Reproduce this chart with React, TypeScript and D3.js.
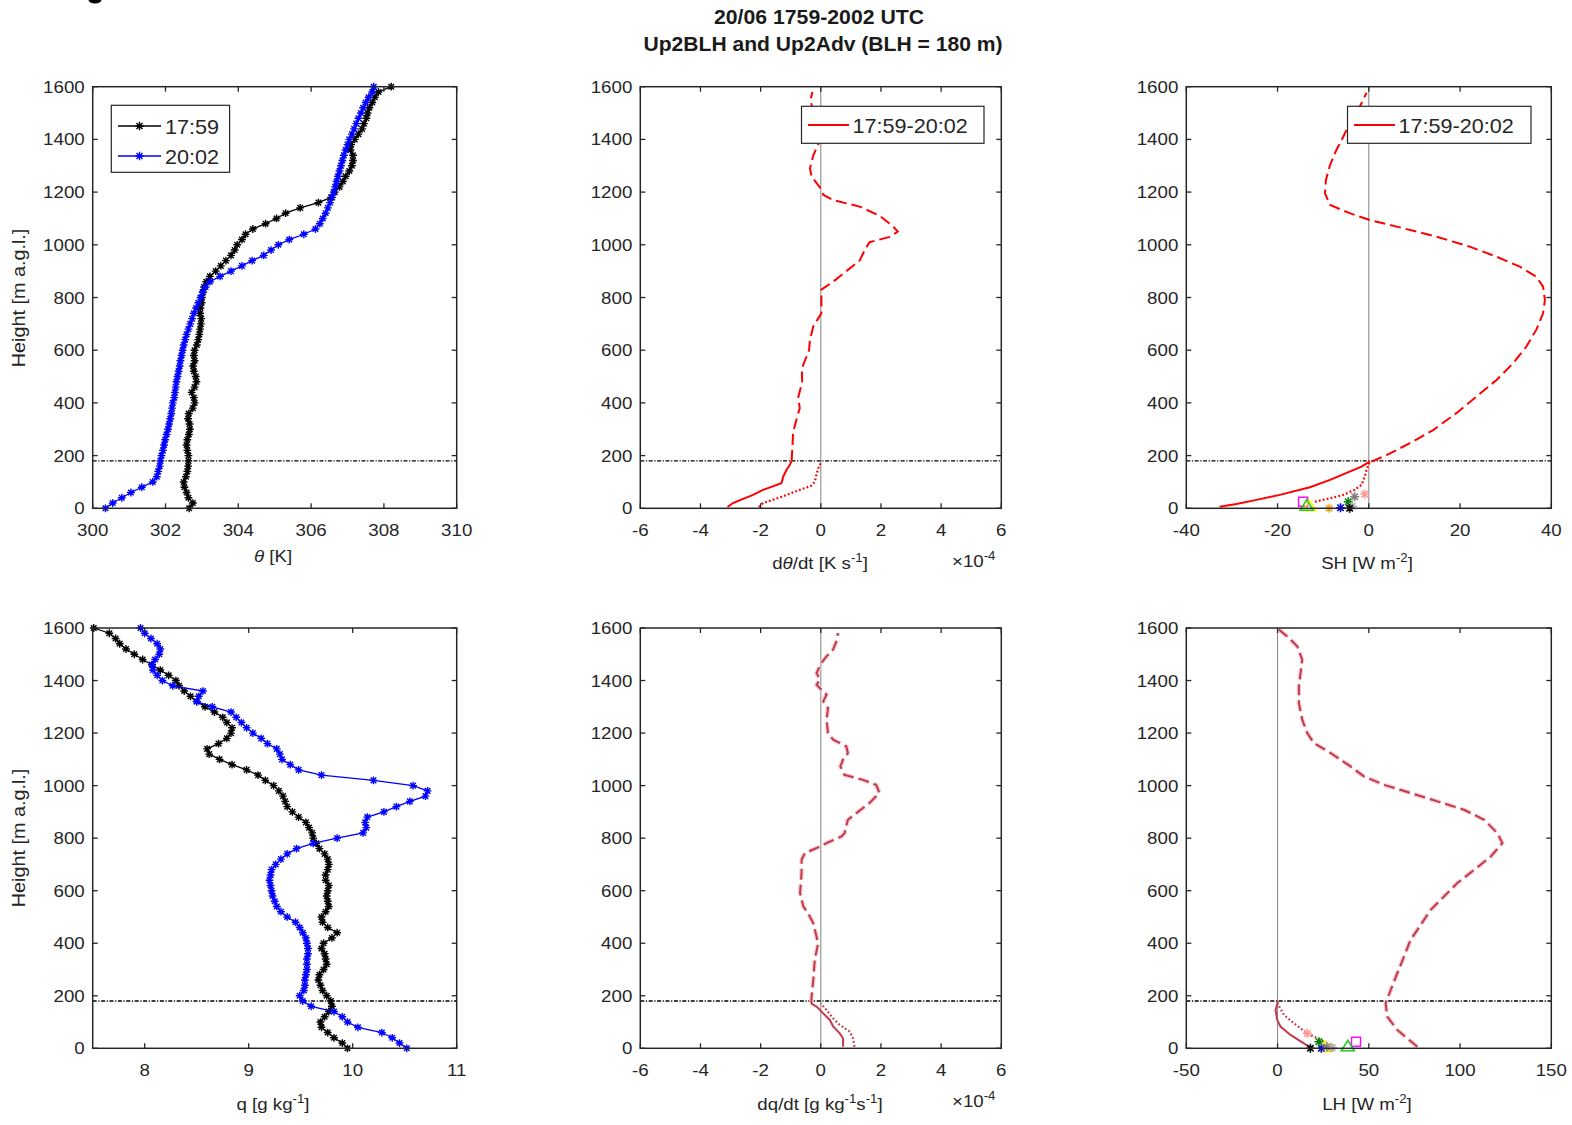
import React from "react";
import * as d3 from "d3";

// ---------- DATA ----------
const heights = [0,20,40,60,80,100,120,140,160,180,200,220,240,260,280,300,320,340,360,380,400,420,440,460,480,500,520,540,560,580,600,620,640,660,680,700,720,740,760,780,800,820,840,860,880,900,920,940,960,980,1000,1020,1040,1060,1080,1100,1120,1140,1160,1180,1200,1220,1240,1260,1280,1300,1320,1340,1360,1380,1400,1420,1440,1460,1480,1500,1520,1540,1560,1580,1600];

const theta1759 = [302.65,302.75,302.63,302.58,302.52,302.5,302.56,302.6,302.62,302.63,302.63,302.6,302.58,302.6,302.64,302.67,302.66,302.62,302.64,302.75,302.8,302.78,302.72,302.8,302.85,302.83,302.78,302.76,302.8,302.78,302.8,302.86,302.9,302.93,302.95,302.97,302.98,302.95,302.96,302.99,303.0,303.03,303.06,303.12,303.22,303.38,303.52,303.66,303.8,303.9,303.97,304.1,304.2,304.4,304.75,305.05,305.3,305.7,306.2,306.55,306.65,306.78,306.87,306.95,307.05,307.12,307.15,307.15,307.08,307.1,307.2,307.3,307.4,307.45,307.52,307.55,307.6,307.68,307.75,307.85,308.2];

const theta2002 = [300.35,300.55,300.8,301.05,301.35,301.65,301.76,301.8,301.84,301.86,301.89,301.93,301.96,301.99,302.03,302.07,302.1,302.13,302.16,302.18,302.2,302.24,302.26,302.28,302.3,302.33,302.36,302.39,302.41,302.44,302.47,302.5,302.54,302.58,302.63,302.68,302.73,302.78,302.84,302.9,302.96,303.02,303.1,303.22,303.5,303.8,304.1,304.38,304.7,304.9,305.1,305.4,305.8,306.12,306.24,306.32,306.4,306.46,306.52,306.58,306.62,306.66,306.7,306.74,306.78,306.82,306.86,306.9,306.95,307.0,307.05,307.12,307.18,307.24,307.3,307.37,307.43,307.5,307.58,307.68,307.72];

const q1759 = [9.95,9.9,9.82,9.76,9.7,9.69,9.73,9.77,9.8,9.79,9.75,9.71,9.69,9.67,9.68,9.72,9.75,9.74,9.73,9.7,9.72,9.8,9.85,9.76,9.71,9.7,9.74,9.77,9.76,9.75,9.76,9.77,9.74,9.74,9.76,9.77,9.76,9.73,9.68,9.65,9.62,9.61,9.58,9.55,9.48,9.42,9.37,9.35,9.33,9.29,9.24,9.16,9.09,8.98,8.84,8.72,8.62,8.6,8.71,8.79,8.83,8.84,8.79,8.75,8.67,8.58,8.5,8.44,8.38,8.33,8.3,8.23,8.15,8.07,7.98,7.9,7.82,7.76,7.72,7.66,7.51];

const q2002 = [10.52,10.45,10.38,10.28,10.05,9.95,9.9,9.82,9.6,9.52,9.49,9.53,9.54,9.54,9.55,9.56,9.56,9.56,9.57,9.57,9.56,9.55,9.52,9.49,9.45,9.37,9.31,9.27,9.25,9.23,9.22,9.21,9.2,9.21,9.22,9.26,9.31,9.37,9.46,9.62,9.85,10.1,10.13,10.12,10.14,10.3,10.42,10.55,10.7,10.72,10.58,10.2,9.7,9.48,9.4,9.32,9.3,9.27,9.18,9.12,9.04,8.98,8.93,8.88,8.83,8.65,8.5,8.52,8.56,8.27,8.17,8.12,8.08,8.07,8.1,8.14,8.15,8.12,8.06,8.0,7.96];

// dtheta/dt (x1e-4 K s-1)
const dthDashH = [180,240,290,340,380,420,480,530,560,600,640,690,740,790,830,860,900,940,980,1010,1030,1050,1070,1110,1145,1170,1190,1210,1260,1290,1340,1390,1440,1500,1550,1580];
const dthDashV = [-0.97,-0.94,-0.92,-0.8,-0.7,-0.75,-0.62,-0.63,-0.53,-0.39,-0.36,-0.25,0.02,0.02,0.02,0.41,0.85,1.29,1.46,1.62,2.29,2.56,2.4,1.96,1.29,0.41,0.08,0.02,-0.31,-0.36,-0.25,-0.05,-0.15,-0.25,-0.34,-0.28];
const dthSolidH = [5,20,35,50,70,85,95,120,145,165,180];
const dthSolidV = [-3.1,-2.92,-2.6,-2.27,-1.92,-1.55,-1.31,-1.25,-1.14,-1.03,-0.97];
const dthDotH = [5,20,32,50,70,85,100,130,150,170,180];
const dthDotV = [-2.06,-1.92,-1.6,-1.15,-0.7,-0.32,-0.2,-0.14,-0.09,-0.01,0];

// SH (W m-2)
const shDashH = [177,202,247,297,361,424,487,550,613,677,740,791,841,879,917,955,993,1031,1063,1094,1120,1151,1195,1246,1303,1360,1410,1461,1499,1537,1577];
const shDashV = [0.6,3.9,9,14.1,19.2,23.6,28,31.6,34.5,36.7,38.2,38.6,38.2,36.7,33.1,28,22.1,14.8,7.5,0.2,-4.2,-8.5,-9.6,-9.4,-8.5,-7.1,-5.6,-4.2,-2.7,-1.6,-0.5];
const shSolidH = [6,16,32,51,80,108,139,158,177];
const shSolidV = [-32.7,-29,-24.6,-19.5,-12.9,-8.5,-4.2,-1.6,0.2];
const shDotH = [25,38,51,70,89,120,152,171,180];
const shDotV = [-11.8,-8.5,-5.6,-3.1,-1.6,-0.9,-0.4,0.1,0.2];

// dq/dt (x1e-4 g kg-1 s-1)
const dqDashH = [171,191,260,337,400,476,514,540,591,667,718,743,768,781,806,819,870,895,934,972,1003,1022,1041,1073,1099,1124,1149,1175,1200,1251,1295,1321,1346,1365,1384,1403,1429,1467,1492,1518,1556,1581];
const dqDashV = [-0.31,-0.31,-0.25,-0.2,-0.09,-0.25,-0.42,-0.58,-0.69,-0.64,-0.64,-0.53,-0.03,0.19,0.68,0.79,0.9,1.18,1.62,1.95,1.84,1.4,0.79,0.65,0.74,0.9,0.85,0.41,0.24,0.19,0.24,0.08,0.19,0.02,-0.14,-0.03,-0.14,0.02,0.19,0.41,0.54,0.57];
const dqSolidH = [6,38,57,83,108,133,159,171];
const dqSolidV = [0.74,0.74,0.63,0.41,0.3,0.08,-0.14,-0.33];
const dqDotH = [6,38,64,89,114,146,171];
const dqDotV = [1.12,1.07,0.96,0.63,0.41,0.19,0];

// LH (W m-2)
const lhDashH = [6,38,70,121,171,222,286,349,413,451,527,578,629,679,730,781,819,870,908,940,972,1003,1035,1073,1124,1162,1200,1251,1314,1378,1429,1480,1530,1568,1594];
const lhDashV = [76.6,71.1,65.6,60.1,59.2,62,65.6,69.3,72.9,76.6,83.9,91.2,98.5,107.7,116.8,123.2,120.5,113.2,102.2,87.6,72.9,58.3,47.3,40,29.1,19.9,16.3,13.5,11.7,11.7,12.6,13.5,10.8,5.3,0.7];
const lhSolidH = [3,19,51,83,108,146,171,180];
const lhSolidV = [18.1,14.4,7.1,1.6,-0.2,-1.1,0,0];
const lhDotH = [13,32,57,95,127,171,180];
const lhDotV = [29.1,23.6,16.3,9,3.5,0,0];

// surface flux markers
const markerShapes = ["square","triangle","triangle","star","star","star","star","star","star","star"];
const markerColors = ["#ff00ff","#ffff00","#22cc22","#edb120","#0000ff","#008000","#808080","#b0b0b0","#ff9a9a","#000000"];
const shMarkV = [-14.4,-13.0,-13.6,-8.7,-6.2,-4.5,-3.1,-3.6,-0.9,-4.2];
const shMarkH = [25,6,8,0,2,25,44,8,54,0];
const lhMarkV = [43,26,38.5,29,24,22.7,27,30,16.3,18];
const lhMarkH = [25,2,6,2,0,25,5,2,57,0];

const BLH = 180;
const yTicks = [0,200,400,600,800,1000,1200,1400,1600];
const thetaTicks = [300,302,304,306,308,310];
const qTicks = [8,9,10,11];
const rateTicks = [-6,-4,-2,0,2,4,6];
const shTicks = [-40,-20,0,20,40];
const lhTicks = [-50,0,50,100,150];

// ---------- LAYOUT ----------
const cols = [{ left: 92.7, width: 364 }, { left: 640.3, width: 361 }, { left: 1186.3, width: 365 }];
const rows = [{ top: 86.7, height: 421.6 }, { top: 628, height: 420.3 }];
const FONT = "'Liberation Sans', Arial, Helvetica, sans-serif";
const AXC = "#262626";
const SX = 1.1;

function Txt({ x, y, size = 17, anchor = "middle", sx = SX, children, weight, fill = AXC, rotate = 0 }: any) {
  return (
    <g transform={`translate(${x},${y}) rotate(${rotate}) scale(${sx},1)`}>
      <text x={0} y={0} fontSize={size} textAnchor={anchor} fontWeight={weight} fill={fill} fontFamily={FONT}>
        {children}
      </text>
    </g>
  );
}

function starD(x: number, y: number, r: number) {
  const a = r * 0.72;
  return `M${x - r},${y}h${2 * r}M${x},${y - r}v${2 * r}M${x - a},${y - a}l${2 * a},${2 * a}M${x - a},${y + a}l${2 * a},${-2 * a}`;
}

function Sup({ children }: any) {
  return <tspan baselineShift="7" fontSize={12}>{children}</tspan>;
}

function Panel({ col, row, xDomain, xTicks, zero, children }: any) {
  const c = cols[col], r = rows[row];
  const xs = d3.scaleLinear().domain(xDomain).range([c.left, c.left + c.width]);
  const ys = d3.scaleLinear().domain([0, 1600]).range([r.top + r.height, r.top]);
  const bottom = r.top + r.height, right = c.left + c.width;
  const tl = 5;
  return (
    <g>
      {zero && <line x1={xs(0)} x2={xs(0)} y1={r.top} y2={bottom} stroke="#8c8c8c" strokeWidth={1.1} />}
      <line x1={c.left} x2={right} y1={ys(BLH)} y2={ys(BLH)} stroke="#000" strokeWidth={1.4} strokeDasharray="4,1.6,1.2,1.6" />
      {children(xs, ys)}
      <rect x={c.left} y={r.top} width={c.width} height={r.height} fill="none" stroke={AXC} strokeWidth={1.5} />
      {xTicks.map((t: number) => (
        <g key={"x" + t}>
          <line x1={xs(t)} x2={xs(t)} y1={bottom} y2={bottom - tl} stroke={AXC} strokeWidth={1.3} />
          <line x1={xs(t)} x2={xs(t)} y1={r.top} y2={r.top + tl} stroke={AXC} strokeWidth={1.3} />
          <Txt x={xs(t)} y={bottom + 28}>{String(t)}</Txt>
        </g>
      ))}
      {yTicks.map((t) => (
        <g key={"y" + t}>
          <line x1={c.left} x2={c.left + tl} y1={ys(t)} y2={ys(t)} stroke={AXC} strokeWidth={1.3} />
          <line x1={right} x2={right - tl} y1={ys(t)} y2={ys(t)} stroke={AXC} strokeWidth={1.3} />
          <Txt x={c.left - 8} y={ys(t) + 6} anchor="end">{t}</Txt>
        </g>
      ))}
    </g>
  );
}

function profile(xs: any, ys: any, vals: number[], hs: number[]) {
  const line = d3.line<number>().x((v) => xs(v)).y((_, i) => ys(hs[i]));
  return line(vals) || "";
}

function MarkerLine({ xs, ys, vals, hs, color }: any) {
  const d = profile(xs, ys, vals, hs);
  const stars = vals.map((v: number, i: number) => starD(xs(v), ys(hs[i]), 3.9)).join("");
  return (
    <g>
      <path d={d} fill="none" stroke={color} strokeWidth={1.3} />
      <path d={stars} fill="none" stroke={color} strokeWidth={1.4} />
    </g>
  );
}

function FluxMarkers({ xs, ys, vals, hs }: any) {
  return (
    <g>
      {vals.map((v: number, i: number) => {
        const x = xs(v), y = ys(hs[i]);
        const col = markerColors[i];
        const s = markerShapes[i];
        if (s === "square") return <rect key={i} x={x - 4.5} y={y - 4.5} width={9} height={9} fill="none" stroke={col} strokeWidth={1.4} />;
        if (s === "triangle") return <path key={i} d={`M${x},${y - 6.5}L${x + 6.5},${y + 4}L${x - 6.5},${y + 4}Z`} fill="none" stroke={col} strokeWidth={1.6} />;
        return <path key={i} d={starD(x, y, 4.5)} fill="none" stroke={col} strokeWidth={1.6} />;
      })}
    </g>
  );
}

function RateLines({ xs, ys, dash, solid, dot, color, halo }: any) {
  return (
    <g fill="none">
      {halo && <path d={profile(xs, ys, dash[0], dash[1])} stroke={halo} strokeWidth={4.5} strokeDasharray="11,5" />}
      <path d={profile(xs, ys, dash[0], dash[1])} stroke={color} strokeWidth={2} strokeDasharray="11,5" />
      <path d={profile(xs, ys, solid[0], solid[1])} stroke={color} strokeWidth={2} />
      <path d={profile(xs, ys, dot[0], dot[1])} stroke={color} strokeWidth={2.2} strokeDasharray="1.8,2.2" />
    </g>
  );
}

export default function App() {
  const redTop = "#ff0000";
  const redBot = "#c23a4c";
  const halo = "#f6cdd2";
  const titleFont = "'Liberation Sans Narrow', 'Arial Narrow', 'Liberation Sans', Arial, sans-serif";
  return (
    <svg width={1572} height={1125} style={{ position: "absolute", left: 0, top: 0, background: "#fff" }} fontFamily={FONT}>
      <rect x={0} y={0} width={1572} height={1125} fill="#fff" />
      <ellipse cx={95} cy={0} rx={6.5} ry={3.5} fill="#000" />
      {/* Title */}
      <text x={819} y={24} fontSize={21} fontWeight="bold" textAnchor="middle" fill="#1a1a1a" fontFamily={titleFont} textLength={210} lengthAdjust="spacingAndGlyphs">20/06 1759-2002 UTC</text>
      <text x={823} y={51} fontSize={21} fontWeight="bold" textAnchor="middle" fill="#1a1a1a" fontFamily={titleFont} textLength={359} lengthAdjust="spacingAndGlyphs">Up2BLH and Up2Adv (BLH = 180 m)</text>

      {/* Top-left: theta */}
      <Panel col={0} row={0} xDomain={[300, 310]} xTicks={thetaTicks}>
        {(xs: any, ys: any) => (
          <g>
            <MarkerLine xs={xs} ys={ys} vals={theta1759} hs={heights} color="#000000" />
            <MarkerLine xs={xs} ys={ys} vals={theta2002} hs={heights} color="#0000ff" />
          </g>
        )}
      </Panel>
      {/* legend top-left */}
      <g>
        <rect x={111.3} y={105.3} width={118.3} height={67} fill="#fff" stroke={AXC} strokeWidth={1.2} />
        <line x1={118} x2={161} y1={126} y2={126} stroke="#000" strokeWidth={1.3} />
        <path d={starD(139.5, 126, 4.2)} stroke="#000" strokeWidth={1.4} fill="none" />
        <line x1={118} x2={161} y1={156} y2={156} stroke="#0000ff" strokeWidth={1.3} />
        <path d={starD(139.5, 156, 4.2)} stroke="#0000ff" strokeWidth={1.4} fill="none" />
        <Txt x={165} y={133.5} size={20} anchor="start" sx={1.08}>17:59</Txt>
        <Txt x={165} y={163.5} size={20} anchor="start" sx={1.08}>20:02</Txt>
      </g>
      <Txt x={273} y={562} size={17}>
        <tspan fontStyle="italic">θ</tspan> [K]
      </Txt>
      <Txt x={25} y={298} size={18} rotate={-90}>Height [m a.g.l.]</Txt>

      {/* Top-middle: dtheta/dt */}
      <Panel col={1} row={0} xDomain={[-6, 6]} xTicks={rateTicks} zero>
        {(xs: any, ys: any) => (
          <RateLines xs={xs} ys={ys} dash={[dthDashV, dthDashH]} solid={[dthSolidV, dthSolidH]} dot={[dthDotV, dthDotH]} color={redTop} />
        )}
      </Panel>
      <g>
        <rect x={801.5} y={106.3} width={182.5} height={37} fill="#fff" stroke={AXC} strokeWidth={1.2} />
        <line x1={808} x2={849} y1={125} y2={125} stroke={redTop} strokeWidth={1.8} />
        <Txt x={852.5} y={132.5} size={20} anchor="start" sx={1.08}>17:59-20:02</Txt>
      </g>
      <Txt x={820} y={569} size={17}>
        d<tspan fontStyle="italic">θ</tspan>/dt [K s<Sup>-1</Sup>]
      </Txt>
      <Txt x={952} y={567} size={17} anchor="start">
        ×10<Sup>-4</Sup>
      </Txt>

      {/* Top-right: SH */}
      <Panel col={2} row={0} xDomain={[-40, 40]} xTicks={shTicks} zero>
        {(xs: any, ys: any) => (
          <g>
            <RateLines xs={xs} ys={ys} dash={[shDashV, shDashH]} solid={[shSolidV, shSolidH]} dot={[shDotV, shDotH]} color={redTop} />
            <FluxMarkers xs={xs} ys={ys} vals={shMarkV} hs={shMarkH} />
          </g>
        )}
      </Panel>
      <g>
        <rect x={1347.5} y={106.3} width={183.5} height={37} fill="#fff" stroke={AXC} strokeWidth={1.2} />
        <line x1={1354} x2={1395} y1={125} y2={125} stroke={redTop} strokeWidth={1.8} />
        <Txt x={1398.5} y={132.5} size={20} anchor="start" sx={1.08}>17:59-20:02</Txt>
      </g>
      <Txt x={1367} y={569} size={17}>
        SH [W m<Sup>-2</Sup>]
      </Txt>

      {/* Bottom-left: q */}
      <Panel col={0} row={1} xDomain={[7.5, 11]} xTicks={qTicks}>
        {(xs: any, ys: any) => (
          <g>
            <MarkerLine xs={xs} ys={ys} vals={q1759} hs={heights} color="#000000" />
            <MarkerLine xs={xs} ys={ys} vals={q2002} hs={heights} color="#0000ff" />
          </g>
        )}
      </Panel>
      <Txt x={273} y={1110} size={17}>
        q [g kg<Sup>-1</Sup>]
      </Txt>
      <Txt x={25} y={838} size={18} rotate={-90}>Height [m a.g.l.]</Txt>

      {/* Bottom-middle: dq/dt */}
      <Panel col={1} row={1} xDomain={[-6, 6]} xTicks={rateTicks} zero>
        {(xs: any, ys: any) => (
          <RateLines xs={xs} ys={ys} dash={[dqDashV, dqDashH]} solid={[dqSolidV, dqSolidH]} dot={[dqDotV, dqDotH]} color={redBot} halo={halo} />
        )}
      </Panel>
      <Txt x={820} y={1110} size={17}>
        dq/dt [g kg<Sup>-1</Sup>s<Sup>-1</Sup>]
      </Txt>
      <Txt x={952} y={1107} size={17} anchor="start">
        ×10<Sup>-4</Sup>
      </Txt>

      {/* Bottom-right: LH */}
      <Panel col={2} row={1} xDomain={[-50, 150]} xTicks={lhTicks} zero>
        {(xs: any, ys: any) => (
          <g>
            <RateLines xs={xs} ys={ys} dash={[lhDashV, lhDashH]} solid={[lhSolidV, lhSolidH]} dot={[lhDotV, lhDotH]} color={redBot} halo={halo} />
            <FluxMarkers xs={xs} ys={ys} vals={lhMarkV} hs={lhMarkH} />
          </g>
        )}
      </Panel>
      <Txt x={1367} y={1110} size={17}>
        LH [W m<Sup>-2</Sup>]
      </Txt>
    </svg>
  );
}
